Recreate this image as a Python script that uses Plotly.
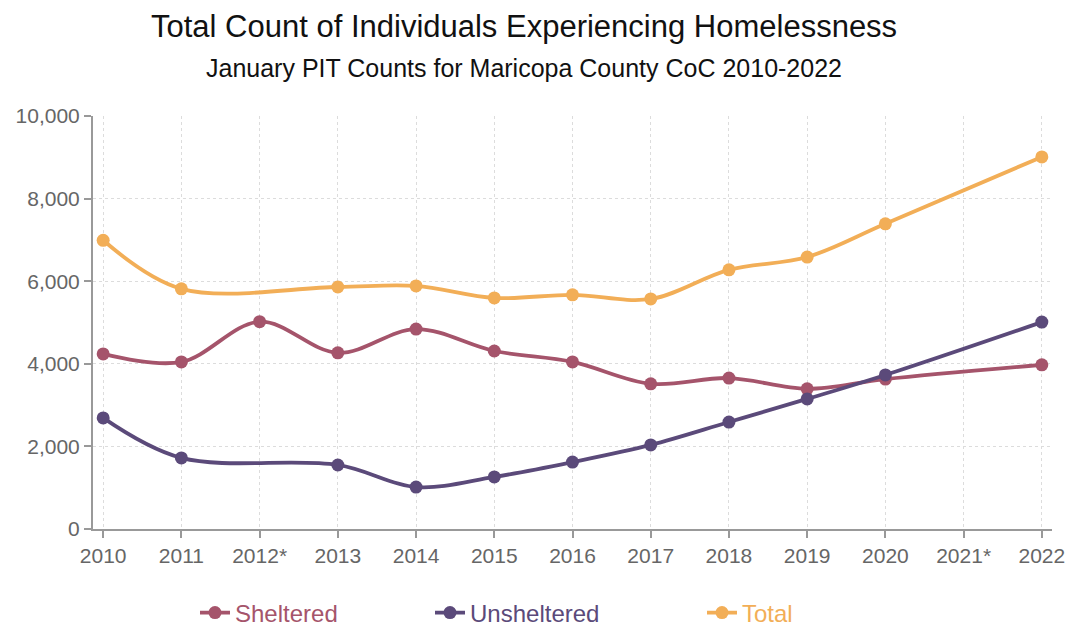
import plotly.graph_objects as go

years = ["2010", "2011", "2012*", "2013", "2014", "2015", "2016", "2017",
         "2018", "2019", "2020", "2021*", "2022"]
sheltered = [4240, 4045, 5020, 4265, 4840, 4310, 4045, 3515, 3655, 3395, 3630, None, 3975]
unsheltered = [2690, 1720, None, 1550, 1015, 1260, 1620, 2035, 2590, 3150, 3730, None, 5010]
total = [6990, 5815, None, 5860, 5885, 5595, 5670, 5570, 6275, 6585, 7390, None, 9010]

names = ["Sheltered", "Unsheltered", "Total"]
colors = ["#a5546b", "#5b4a7a", "#f2ae57"]
series = [sheltered, unsheltered, total]
legend_ids = ["legend", "legend2", "legend3"]

legend_px = [201 - 6, 436 - 6, 708 - 6]

FONT = "Liberation Sans, Arial, Helvetica, sans-serif"
W, H = 1067, 626
L, T = 93, 116
R = W - 1052
B = H - 529
PW, PH = W - L - R, H - T - B

fig = go.Figure()
for nm, col, vals, lg in zip(names, colors, series, legend_ids):
    fig.add_trace(go.Scatter(
        x=years, y=vals, name=nm, legend=lg,
        mode="lines+markers", connectgaps=True,
        line=dict(color=col, width=3.8, shape="spline", smoothing=1.0),
        marker=dict(color=col, size=13),
    ))

layout_legends = {}
for lg, px, col in zip(legend_ids, legend_px, colors):
    layout_legends[lg] = dict(
        orientation="h", x=(px - L) / PW, xanchor="left",
        y=(H - B - 613) / PH, yanchor="middle",
        font=dict(size=24, color=col, family=FONT), itemwidth=30,
        bgcolor="rgba(0,0,0,0)",
    )

fig.update_layout(
    width=W, height=H,
    margin=dict(l=L, r=R, t=T, b=B, autoexpand=False),
    paper_bgcolor="white", plot_bgcolor="white",
    font=dict(family=FONT, color="#666666", size=21),
    showlegend=True,
    **layout_legends,
)
cx = (524 - L) / PW
fig.add_annotation(text="Total Count of Individuals Experiencing Homelessness",
                   xref="paper", yref="paper", x=cx, y=1 + (T - 27) / PH,
                   xanchor="center", yanchor="middle", showarrow=False,
                   font=dict(size=31, color="#111111", family=FONT))
fig.add_annotation(text="January PIT Counts for Maricopa County CoC 2010-2022",
                   xref="paper", yref="paper", x=cx, y=1 + (T - 68) / PH,
                   xanchor="center", yanchor="middle", showarrow=False,
                   font=dict(size=25, color="#111111", family=FONT))

fig.update_xaxes(
    type="category", range=[-0.13, 12.13],
    showline=True, linecolor="#999999", linewidth=2,
    ticks="outside", ticklen=7, tickcolor="#999999", tickwidth=1.5,
    showgrid=True, gridcolor="#dcdcdc", griddash="dot", gridwidth=1.2,
    tickfont=dict(size=21, color="#666666"),
)
fig.update_yaxes(
    range=[0, 10000], tickvals=[0, 2000, 4000, 6000, 8000, 10000], tickformat=",d",
    showline=True, linecolor="#999999", linewidth=2,
    ticks="outside", ticklen=7, tickcolor="#999999", tickwidth=1.5,
    showgrid=True, gridcolor="#dcdcdc", griddash="dot", gridwidth=1.2,
    zeroline=False, tickfont=dict(size=21, color="#666666"),
)

fig.write_html("out.html", config={"displayModeBar": False},
               post_script="document.body.style.margin='0';document.body.style.overflow='hidden';")
